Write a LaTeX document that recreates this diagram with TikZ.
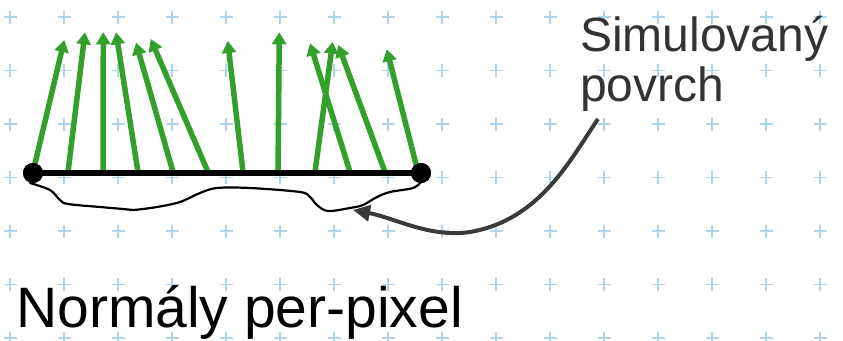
\documentclass[tikz,border=0pt]{standalone}
\usepackage{fontspec}
\setmainfont{Liberation Sans}
\usetikzlibrary{arrows.meta}
\definecolor{gridblue}{RGB}{178,212,234}
\definecolor{normgreen}{RGB}{51,160,44}
\definecolor{darkgray}{RGB}{58,58,58}
\definecolor{labelgray}{RGB}{51,51,51}
\tikzset{
  gridcross/.style={draw=gridblue, line width=1.4pt},
  dotnode/.style={circle, fill=black, inner sep=0pt, minimum size=20pt},
  baseline/.style={draw=black, line width=5.5pt},
  normal/.style={draw=normgreen, line width=5.5pt, -{Triangle[length=12pt,width=14pt]}},
  surface/.style={draw=black, line width=2.2pt, line join=round, line cap=round},
  pointer/.style={draw=darkgray, line width=4pt, -{Triangle[length=17pt,width=16pt]}},
  labeltext/.style={text=labelgray, font=\fontsize{48}{50}\selectfont, align=left, inner sep=0pt},
  titletext/.style={text=black, font=\fontsize{57}{60}\selectfont, inner sep=0pt}
}
\begin{document}
\begin{tikzpicture}[x=1pt,y=-1pt]
\useasboundingbox (0,0) rectangle (843,340);
\fill[white] (0,0) rectangle (843,340);
% background grid of crosses
\foreach \i in {0,...,15}{
  \foreach \j in {0,...,6}{
    \pgfmathsetmacro{\cx}{10+54*\i}
    \pgfmathsetmacro{\cy}{17+53.5*\j}
    \draw[gridcross] (\cx-6.5,\cy) -- (\cx+6.5,\cy) (\cx,\cy-6.5) -- (\cx,\cy+6.5);
  }
}
% simulated surface
\draw[surface] plot[smooth, tension=0.55] coordinates {
  (30,183) (50,190) (60,200) (68,204) (100,207) (123,209) (133,210)
  (157,207) (180,202) (200,193) (217,188) (250,188) (300,192) (310,197)
  (317,205) (328,211) (350,208) (363,205) (377,197) (390,192) (413,188) (421,182)};
% normals
\foreach \n/\bx/\tx/\ty in {1/33/64.3/40, 2/68/85/32.3, 3/103/103.3/32.3, 4/138/116/32.3,
  5/173/136/42.7, 6/208/150.7/39, 7/243/227.7/41, 8/278/279.3/32.3,
  9/315/332.7/41.7, 10/350/310/43.3, 11/385/338.3/45, 12/418/386.7/49.3}{
  \coordinate (b\n) at (\bx,172);
  \coordinate (t\n) at (\tx,\ty);
  \draw[normal] (b\n) -- (t\n);
}
% pixel line with end points
\node[dotnode] (L) at (33,173) {};
\node[dotnode] (R) at (421,173) {};
\draw[baseline] (L.center) -- (R.center);
\node[dotnode] at (L.center) {};
\node[dotnode] at (R.center) {};
% label and pointer
\node[labeltext, anchor=base west] (lab) at (580,101.5) {Simulovaný\\povrch};
\coordinate (tail) at (598,119);
\coordinate (surf) at (353,210);
\draw[pointer] (tail) .. controls (570,160) and (540,220) .. (470,232)
  .. controls (430,238) and (395,218) .. (surf);
% title
\node[titletext, anchor=base west] (title) at (16,327) {Normály per-pixel};
\end{tikzpicture}
\end{document}
